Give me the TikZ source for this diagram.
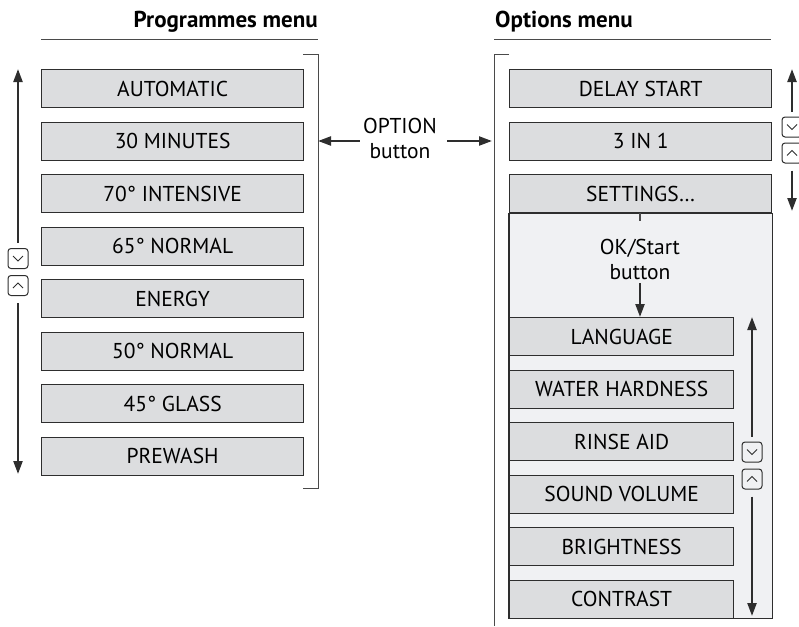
\documentclass[tikz,border=0pt]{standalone}
\usepackage{fontspec}
\setmainfont{PT Sans}
\usetikzlibrary{arrows.meta,positioning,backgrounds}
\definecolor{menufill}{HTML}{DCDDDF}
\definecolor{panelfill}{HTML}{F0F1F3}
\definecolor{linegray}{HTML}{2E2E2E}
\definecolor{rulegray}{HTML}{4A4A4A}
\newcommand{\menufont}{\fontsize{21.5}{25}\selectfont}
\newcommand{\titlefont}{\fontsize{23}{27}\selectfont\bfseries}
\tikzset{
  menubox/.style={draw=linegray,line width=1.3pt,fill=menufill,
    minimum width=262pt,minimum height=38pt,inner sep=0pt,font=\menufont},
  subbox/.style={menubox,minimum width=224pt},
  panelbox/.style={draw=linegray,line width=1.3pt,fill=panelfill},
  keyicon/.style={draw=linegray,line width=1pt,rounded corners=3pt,
    minimum width=20pt,minimum height=20pt,inner sep=0pt},
  keydown/.style={keyicon,path picture={\draw[line width=1pt,sharp corners]
    ([shift={(-5pt,2.5pt)}]path picture bounding box.center) -- ++(5pt,-5pt) -- ++(5pt,5pt);}},
  keyup/.style={keyicon,path picture={\draw[line width=1pt,sharp corners]
    ([shift={(-5pt,-2.5pt)}]path picture bounding box.center) -- ++(5pt,5pt) -- ++(5pt,-5pt);}},
  scrollarrow/.style={-{Triangle[length=13pt,width=9pt]},line width=2.2pt,draw=linegray},
  flowarrow/.style={-{Triangle[length=13pt,width=9pt]},line width=2.2pt,draw=linegray},
  bracketline/.style={draw=rulegray,line width=0.9pt},
  titlelbl/.style={font=\titlefont,inner sep=0pt},
  btnlbl/.style={align=center,font=\menufont,inner sep=0pt}
}

\begin{document}
\begin{tikzpicture}[x=1pt,y=-1pt,node distance=13.2pt]
\useasboundingbox (0,0) rectangle (799,626);

% headings
\node[titlelbl,anchor=base east] (progtitle) at (318,28) {Programmes menu};
\node[titlelbl,anchor=base west] (opttitle) at (495,28) {Options menu};
\draw[bracketline] (41,39) -- (318,39);
\draw[bracketline] (494,39) -- (771,39);

% programmes menu
\node[menubox,anchor=north west] (automatic) at (41,69) {AUTOMATIC};
\node[menubox,below=of automatic] (min30) {30 MINUTES};
\node[menubox,below=of min30] (int70) {70° INTENSIVE};
\node[menubox,below=of int70] (norm65) {65° NORMAL};
\node[menubox,below=of norm65] (energy) {ENERGY};
\node[menubox,below=of energy] (norm50) {50° NORMAL};
\node[menubox,below=of norm50] (glass45) {45° GLASS};
\node[menubox,below=of glass45] (prewash) {PREWASH};
\draw[bracketline] (303,54) -- (318,54) -- (318,488) -- (303,488);

% options menu
\node[menubox,anchor=north west] (delay) at (509,69) {DELAY START};
\node[menubox,below=of delay] (threein1) {3 IN 1};
\node[menubox,below=of threein1] (settings) {SETTINGS\ldots};
\draw[bracketline] (509,54) -- (494,54) -- (494,626);

% settings submenu
\node[subbox,anchor=north west] (language) at (509,317) {LANGUAGE};
\node[subbox,below=of language] (hardness) {WATER HARDNESS};
\node[subbox,below=of hardness] (rinseaid) {RINSE AID};
\node[subbox,below=of rinseaid] (volume) {SOUND VOLUME};
\node[subbox,below=of volume] (brightness) {BRIGHTNESS};
\node[subbox,below=of brightness] (contrast) {CONTRAST};
\begin{scope}[on background layer]
\draw[panelbox] (settings.south west) rectangle (contrast.south -| settings.east);
\end{scope}

% buttons
\node[btnlbl] (optbtn) at (400,138) {OPTION\\button};
\coordinate (progedge) at (318,141);
\coordinate (optedge) at (494,141);
\draw[flowarrow,shorten <=3pt] (optbtn.west |- progedge) -- (progedge);
\draw[flowarrow,shorten <=10pt,shorten >=2pt] (optbtn.east |- optedge) -- (optedge);

\node[btnlbl] (okbtn) at (640,259) {OK/Start\\button};
\coordinate (oktick) at (640,221);
\draw[bracketline,line width=1.3pt] (okbtn.north |- settings.south) -- (oktick);
\draw[flowarrow,shorten <=4pt] (okbtn.south) -- (okbtn.south |- language.north);

% scroll keys
\node[keydown] (progdown) at (18,258.5) {};
\node[keyup] (progup) at (18,285.5) {};
\coordinate (progtop) at (18,69);
\coordinate (progbot) at (18,474);
\draw[scrollarrow,shorten <=5pt] (progdown) -- (progtop);
\draw[scrollarrow,shorten <=7pt] (progup) -- (progbot);

\node[keydown] (optdown) at (792,127) {};
\node[keyup] (optup) at (792,153) {};
\coordinate (opttop) at (792,69);
\coordinate (optbot) at (792,211);
\draw[scrollarrow,shorten <=5pt] (optdown) -- (opttop);
\draw[scrollarrow,shorten <=7pt] (optup) -- (optbot);

\node[keydown] (subdown) at (752,452) {};
\node[keyup] (subup) at (752,479) {};
\coordinate (subtop) at (752,317);
\coordinate (subbot) at (752,616);
\draw[scrollarrow,shorten <=5pt] (subdown) -- (subtop);
\draw[scrollarrow,shorten <=7pt] (subup) -- (subbot);
\end{tikzpicture}
\end{document}
